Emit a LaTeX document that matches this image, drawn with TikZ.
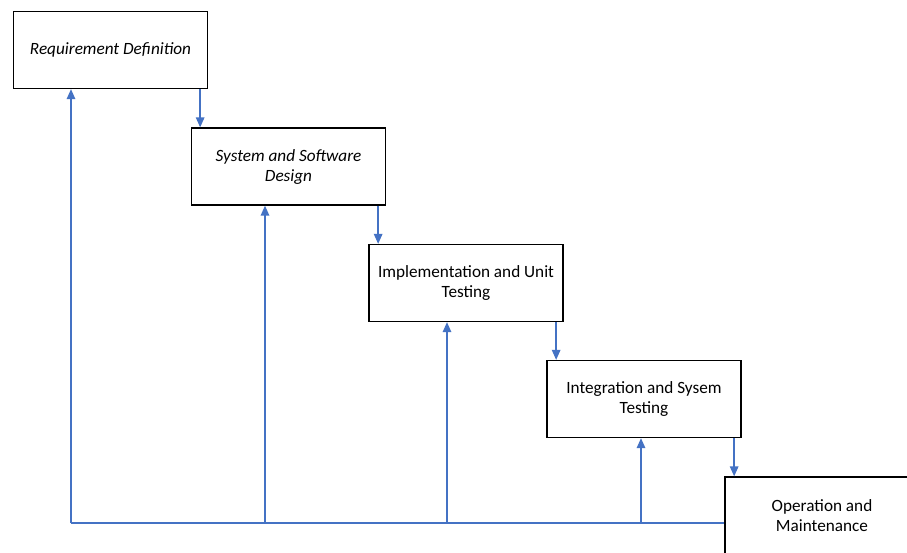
\documentclass[tikz,border=0pt]{standalone}
\usepackage{fontspec}
\setmainfont{Carlito}
\usetikzlibrary{arrows.meta}
\definecolor{arrowblue}{RGB}{68,114,196}
\begin{document}
\begin{tikzpicture}[x=1pt,y=-1pt,
  stage/.style={draw=black, line width=1.3pt, fill=white, minimum width=194pt,
    minimum height=77pt, align=center, inner sep=0pt,
    font=\fontsize{17.2}{20}\selectfont},
  flow/.style={draw=arrowblue, line width=1.5pt, -{Triangle[width=8.5pt,length=10pt]}},
  feed/.style={draw=arrowblue, line width=1.5pt}]
\useasboundingbox (0,0) rectangle (907,552);
\clip (0,0) rectangle (907,552);
\fill[white] (0,0) rectangle (907,552);

\node[stage] (r1) at (110.5,50) {\itshape Requirement Definition};
\node[stage] (r2) at (288.5,166.5) {\itshape System and Software\\\itshape Design};
\node[stage] (r3) at (466,283) {Implementation and Unit\\Testing};
\node[stage] (r4) at (644,399) {Integration and Sysem\\Testing};
\node[stage] (r5) at (822,515.5) {Operation and\\Maintenance};

% forward arrows
\draw[flow] ([xshift=-8pt]r1.south east) -- ([xshift=-8pt]r1.south east |- r2.north);
\draw[flow] ([xshift=-8pt]r2.south east) -- ([xshift=-8pt]r2.south east |- r3.north);
\draw[flow] ([xshift=-7.5pt]r3.south east) -- ([xshift=-7.5pt]r3.south east |- r4.north);
\draw[flow] ([xshift=-7.5pt]r4.south east) -- ([xshift=-7.5pt]r4.south east |- r5.north);

% feedback
\coordinate (f1) at (71,523);
\coordinate (f2) at (265,523);
\coordinate (f3) at (447,523);
\coordinate (f4) at (641,523);
\draw[feed] (f1) -- (f1 -| r5.west);
\draw[flow] (f1) -- (f1 |- r1.south);
\draw[flow] (f2) -- (f2 |- r2.south);
\draw[flow] (f3) -- (f3 |- r3.south);
\draw[flow] (f4) -- (f4 |- r4.south);
\end{tikzpicture}
\end{document}
